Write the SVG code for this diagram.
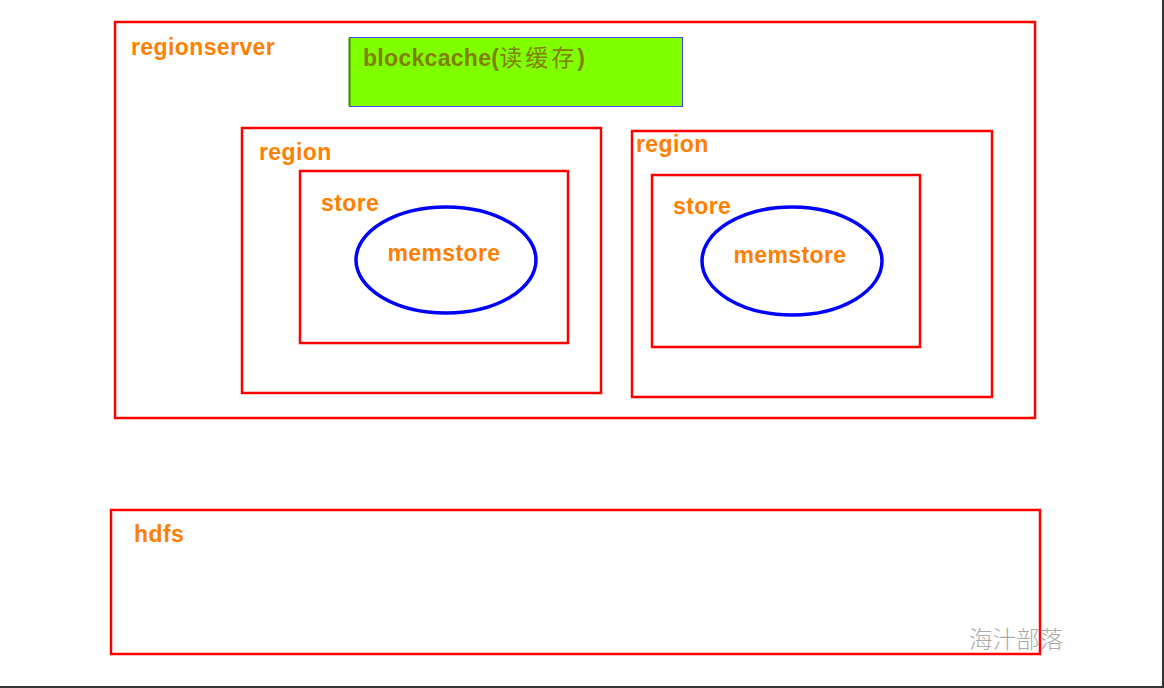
<svg xmlns="http://www.w3.org/2000/svg" width="1164" height="688" viewBox="0 0 1164 688">
<style>
.box{fill:none;stroke:#ff0000;stroke-width:2.5}
.lbl{font-family:"Liberation Sans",Arial,sans-serif;font-weight:bold;font-size:23px;fill:#ff8000;letter-spacing:0.4px}
.ell{fill:none;stroke:#0000ff;stroke-width:3.5}
.cache{font-family:"Liberation Sans","Noto Sans CJK SC",sans-serif;font-weight:bold;font-size:23px;fill:#808000;letter-spacing:0.3px}
.wm{font-family:"Noto Sans CJK SC",sans-serif;font-size:23.5px;fill:#aaaaaa;font-weight:300}
</style>
<rect width="1164" height="688" fill="#ffffff"/>
<g id="regionserver">
<rect class="box" x="115" y="22" width="920" height="396"/>
<text class="lbl" x="131" y="55">regionserver</text>
</g>
<g id="blockcache">
<rect x="349.5" y="37.5" width="333" height="69" fill="#80ff00" stroke="#4444ff" stroke-width="1"/>
<line x1="349.5" y1="38" x2="349.5" y2="106" stroke="#3a8a00" stroke-width="2"/>
<text class="cache" x="363" y="66">blockcache(<tspan font-weight="normal" letter-spacing="3px">读缓存</tspan>)</text>
</g>
<g id="region1">
<rect class="box" x="242" y="128" width="359" height="265"/>
<text class="lbl" x="259" y="160">region</text>
</g>
<g id="store1">
<rect class="box" x="300" y="171" width="268" height="172"/>
<text class="lbl" x="321" y="211">store</text>
</g>
<g id="memstore1">
<ellipse class="ell" cx="446" cy="260" rx="90" ry="53"/>
<text class="lbl" x="444" y="261" text-anchor="middle">memstore</text>
</g>
<g id="region2">
<rect class="box" x="632" y="131" width="360" height="266"/>
<text class="lbl" x="636" y="152">region</text>
</g>
<g id="store2">
<rect class="box" x="652" y="175" width="268" height="172"/>
<text class="lbl" x="673" y="214">store</text>
</g>
<g id="memstore2">
<ellipse class="ell" cx="792" cy="261" rx="90" ry="54"/>
<text class="lbl" x="790" y="263" text-anchor="middle">memstore</text>
</g>
<g id="hdfs">
<rect class="box" x="111" y="510" width="929" height="144"/>
<text class="lbl" x="134" y="542">hdfs</text>
</g>
<g id="connectors"></g>
<text class="wm" x="969" y="648">海汁部落</text>
<rect x="1162" y="0" width="2" height="688" fill="#333333"/>
<rect x="0" y="686" width="1164" height="2" fill="#333333"/>
</svg>
